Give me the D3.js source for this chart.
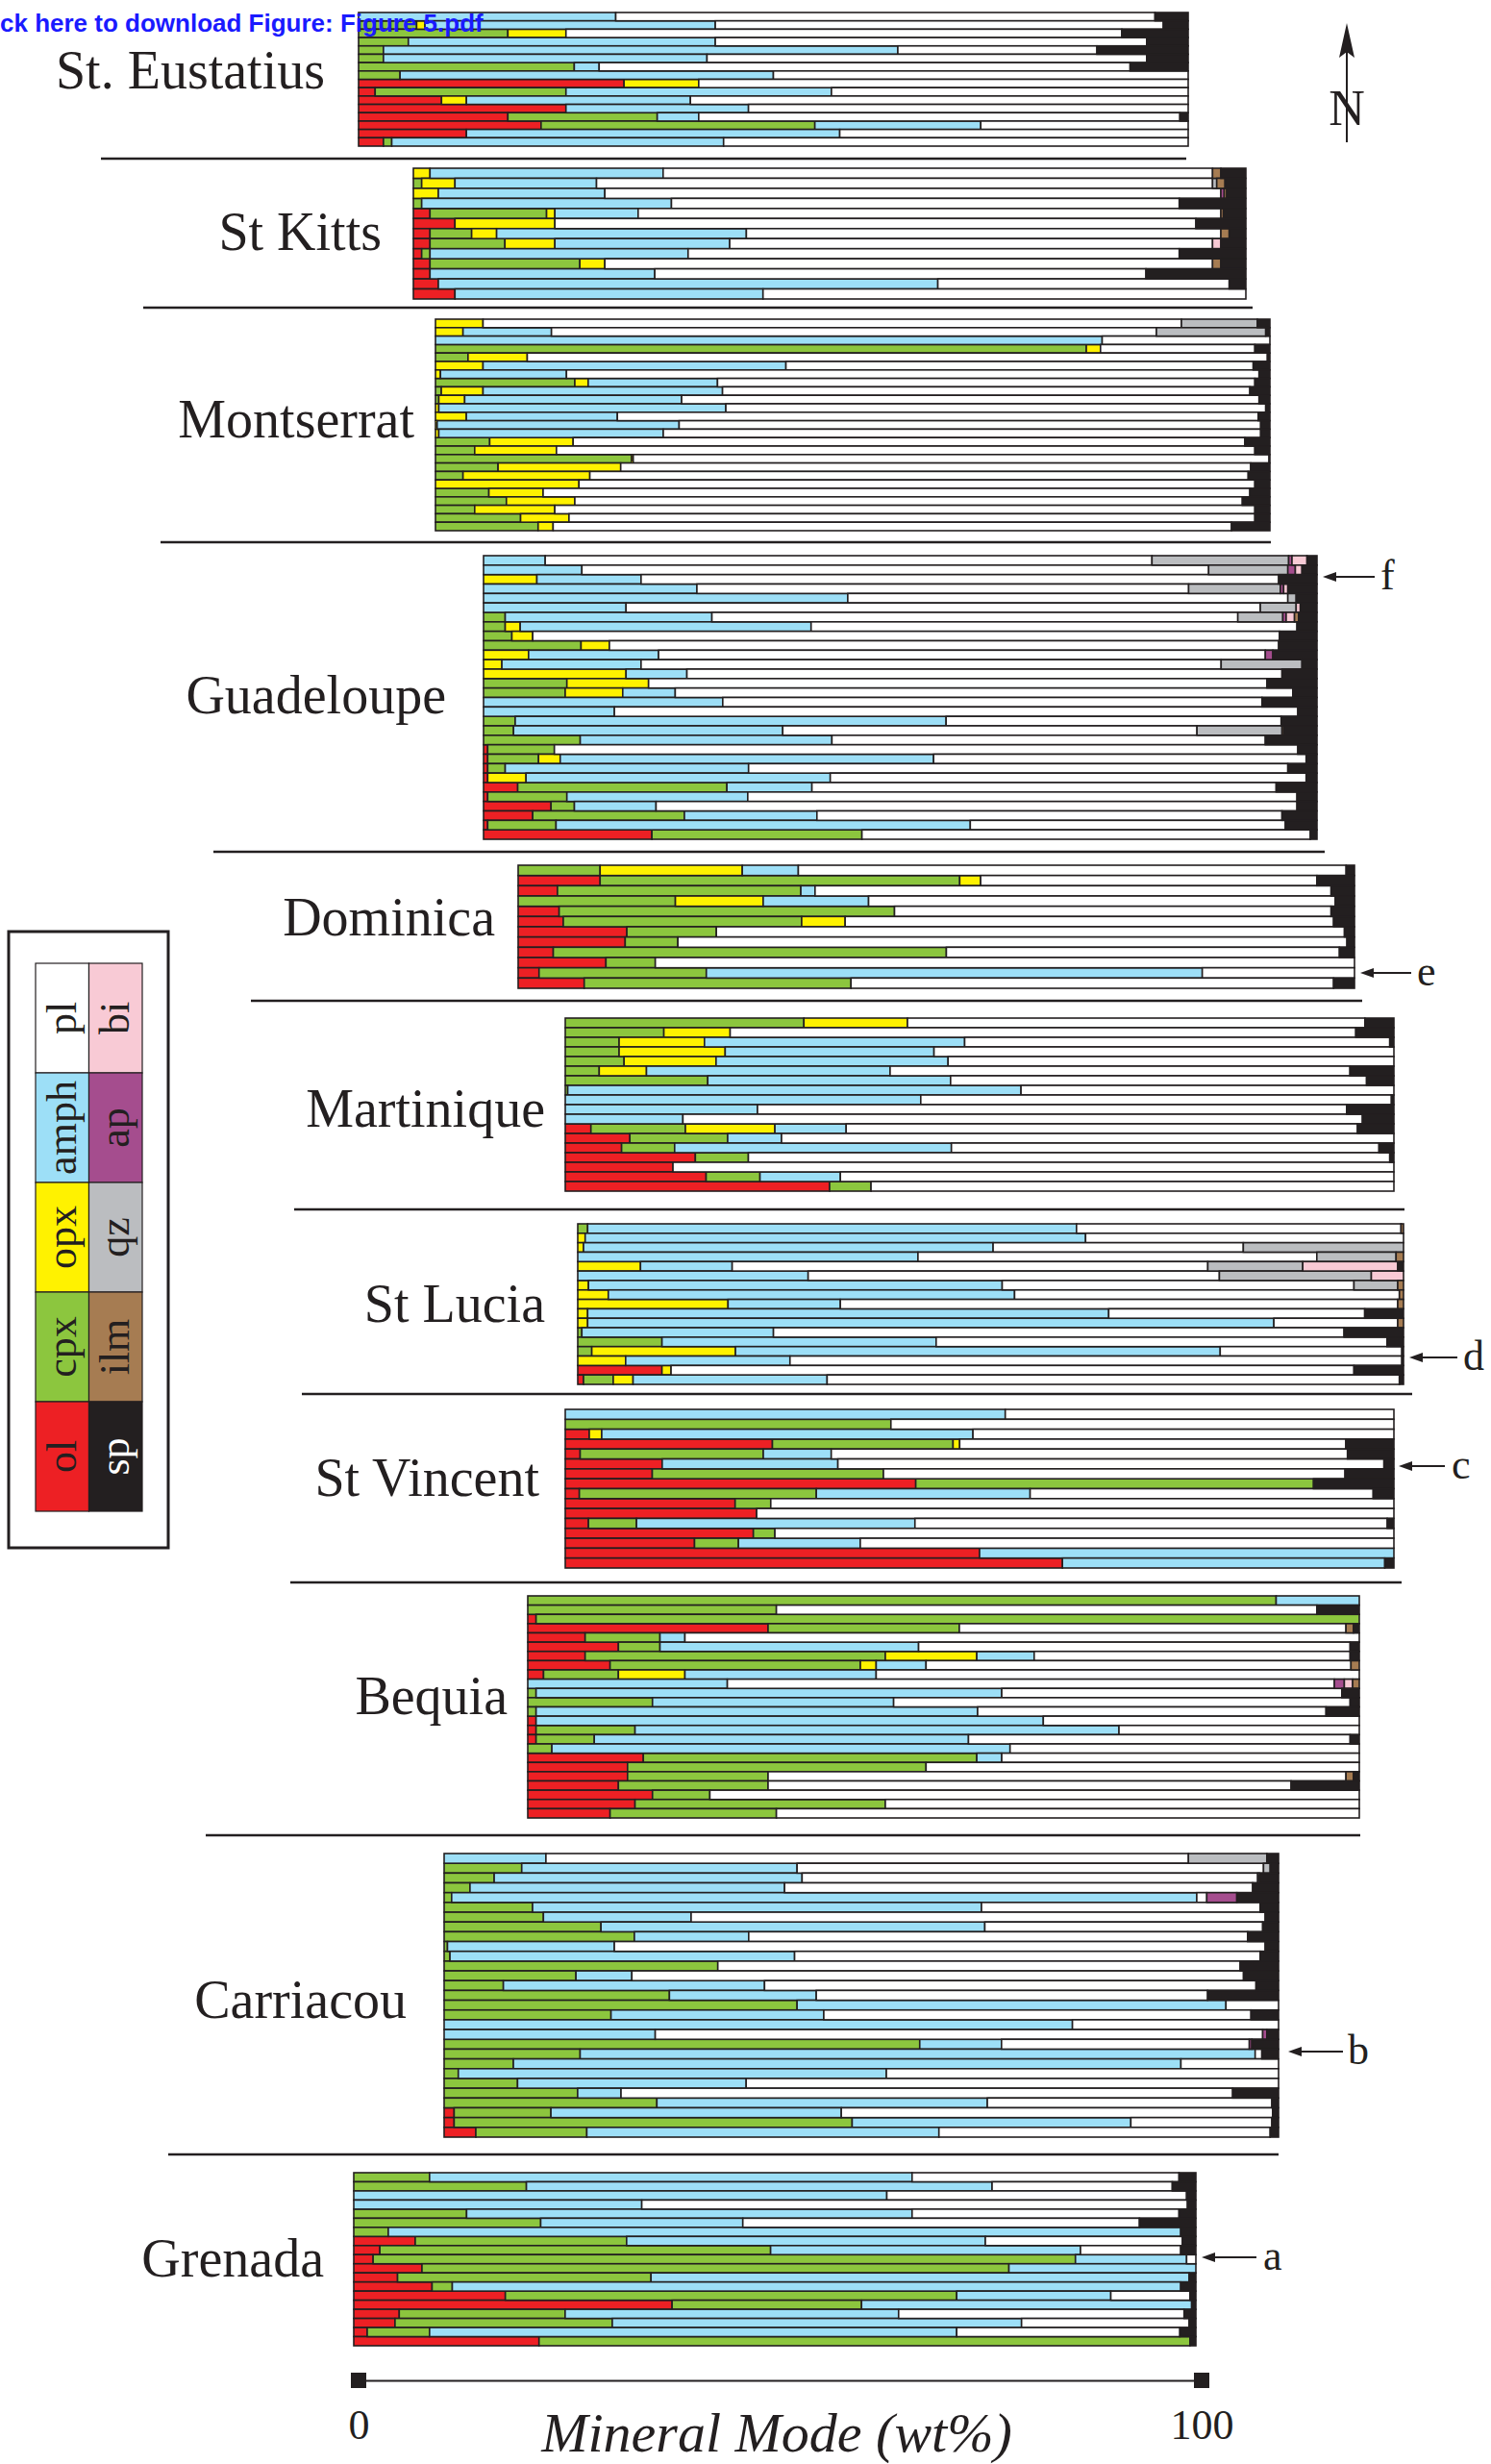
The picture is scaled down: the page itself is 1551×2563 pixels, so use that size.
<!DOCTYPE html>
<html>
<head>
<meta charset="utf-8">
<script src="https://cdn.jsdelivr.net/npm/d3@7"></script>
<style>
  body { margin: 0; background: #fff; }
  svg { display: block; }
</style>
</head>
<body>
<svg id="chart" width="1551" height="2563"></svg>
<script>
'use strict'

// mineral keys in stacking order, and their fills
const minerals = ['ol', 'cpx', 'opx', 'amph', 'pl', 'qz', 'ap', 'bi', 'ilm', 'sp']
const mineralColors = ['#ed2024', '#8cc63e', '#fff200', '#9ddff7', '#ffffff', '#bbbdc0', '#a54d8e', '#f8cad5', '#a67c52', '#231f20']

const islandNames = ['St. Eustatius', 'St Kitts', 'Montserrat', 'Guadeloupe', 'Dominica', 'Martinique',
    'St Lucia', 'St Vincent', 'Bequia', 'Carriacou', 'Grenada']

// modes in wt%, one object per sample, top to bottom
const stEustatius = [
    {amph: 31, pl: 65, sp: 4},
    {cpx: 7, opx: 1, amph: 35, pl: 54, sp: 3},
    {cpx: 18, opx: 7, pl: 67, sp: 8},
    {cpx: 6, amph: 37, pl: 52, sp: 5},
    {cpx: 3, amph: 62, pl: 24, sp: 11},
    {cpx: 3, amph: 39, pl: 53, sp: 5},
    {cpx: 26, amph: 3, pl: 64, sp: 7},
    {cpx: 5, amph: 45, pl: 50},
    {ol: 32, opx: 9, pl: 59},
    {ol: 2, cpx: 23, amph: 32, pl: 43},
    {ol: 10, opx: 3, amph: 27, pl: 60},
    {ol: 25, amph: 22, pl: 53},
    {ol: 18, cpx: 18, amph: 5, pl: 58, sp: 1},
    {ol: 22, cpx: 33, amph: 20, pl: 25},
    {ol: 13, amph: 45, pl: 42},
    {ol: 3, cpx: 1, amph: 40, pl: 56}
]

const stKitts = [
    {opx: 2, amph: 28, pl: 66, ilm: 1, sp: 3},
    {cpx: 1, opx: 4, amph: 17, pl: 74, qz: 0.5, ilm: 1, sp: 2.5},
    {opx: 3, amph: 20, pl: 74, ap: 0.4, ilm: 0.3, sp: 2.3},
    {cpx: 1, amph: 30, pl: 61, sp: 8},
    {ol: 2, cpx: 14, opx: 1, amph: 10, pl: 70, ilm: 0.3, sp: 2.7},
    {ol: 5, opx: 12, pl: 77, sp: 6},
    {ol: 2, cpx: 5, opx: 3, amph: 30, pl: 57, ilm: 1, sp: 2},
    {ol: 2, cpx: 9, opx: 6, amph: 21, pl: 58, bi: 1, sp: 3},
    {ol: 1, cpx: 1, amph: 31, pl: 59, sp: 8},
    {ol: 2, cpx: 18, opx: 3, pl: 73, ilm: 1, sp: 3},
    {ol: 2, amph: 27, pl: 59, sp: 12},
    {ol: 3, amph: 60, pl: 35, sp: 2},
    {ol: 5, amph: 37, pl: 58}
]

const montserrat = [
    {opx: 5.7, pl: 83.7, qz: 9.1, sp: 1.5},
    {opx: 3.3, amph: 10.6, pl: 72.5, qz: 13.1, sp: 0.5},
    {amph: 79.9, pl: 20.1},
    {cpx: 78, opx: 1.7, pl: 18.5, sp: 1.8},
    {cpx: 3.9, opx: 7.1, pl: 88.7, sp: 0.3},
    {opx: 5.7, amph: 36.3, pl: 56, sp: 2},
    {opx: 0.6, amph: 15.1, pl: 83, sp: 1.3},
    {cpx: 16.7, opx: 1.6, amph: 15.5, pl: 64.4, sp: 1.8},
    {cpx: 0.7, opx: 5, amph: 28.7, pl: 63.2, sp: 2.4},
    {cpx: 0.4, opx: 3.1, amph: 26, pl: 69.2, sp: 1.3},
    {opx: 0.4, amph: 34.4, pl: 64.7, sp: 0.5},
    {opx: 3.7, amph: 18.1, pl: 76.8, sp: 1.4},
    {opx: 0.2, amph: 29, pl: 69.7, sp: 1.1},
    {opx: 0.4, amph: 26.9, pl: 71.6, sp: 1.1},
    {cpx: 6.5, opx: 10, pl: 80.5, sp: 3},
    {cpx: 4.7, opx: 9.8, pl: 83.7, sp: 1.8},
    {cpx: 23.5, opx: 0.2, pl: 76.2, sp: 0.1},
    {cpx: 7.5, opx: 14.7, pl: 75.5, sp: 2.3},
    {cpx: 3.3, opx: 15.2, pl: 78.9, sp: 2.6},
    {opx: 17.2, pl: 81, sp: 1.8},
    {cpx: 6.4, opx: 6.5, pl: 84.7, sp: 2.4},
    {cpx: 8.5, opx: 8.2, pl: 80, sp: 3.3},
    {cpx: 4.7, opx: 9.6, pl: 83.9, sp: 1.8},
    {cpx: 10.2, opx: 5.8, pl: 82.2, sp: 1.8},
    {cpx: 12.3, opx: 1.8, pl: 81.3, sp: 4.6}
]

const guadeloupe = [
    {amph: 7.4, pl: 72.8, qz: 16.4, ap: 0.4, bi: 1.8, sp: 1.2},
    {amph: 11.8, pl: 75.2, qz: 9.5, ap: 0.9, bi: 0.8, sp: 1.8},
    {opx: 6.4, amph: 12.5, pl: 76.5, sp: 4.6},
    {amph: 25.6, pl: 59, qz: 11, ap: 0.4, bi: 0.5, sp: 3.5},
    {amph: 43.7, pl: 52.8, qz: 1, sp: 2.5},
    {amph: 17.1, pl: 76.1, qz: 4.3, bi: 0.5, sp: 2},
    {cpx: 2.6, amph: 24.8, pl: 63.1, qz: 5.4, ap: 0.4, bi: 1, ilm: 0.5, sp: 2.2},
    {cpx: 2.6, opx: 1.8, amph: 34.9, pl: 58.3, sp: 2.4},
    {cpx: 3.4, opx: 2.5, pl: 89.6, sp: 4.5},
    {cpx: 11.7, opx: 3.4, pl: 80.3, sp: 4.6},
    {opx: 5.4, amph: 15.6, pl: 72.8, ap: 0.9, sp: 5.3},
    {opx: 2.2, amph: 16.7, pl: 69.6, qz: 9.7, sp: 1.8},
    {opx: 17.1, amph: 7.3, pl: 71.4, sp: 4.2},
    {cpx: 10, opx: 9.8, pl: 74.2, sp: 6},
    {cpx: 9.8, opx: 6.9, amph: 6.3, pl: 74.1, sp: 2.9},
    {amph: 28.7, pl: 64.7, sp: 6.6},
    {amph: 15.7, pl: 82, sp: 2.3},
    {cpx: 3.8, amph: 51.7, pl: 40.2, sp: 4.3},
    {cpx: 3.6, amph: 32.3, pl: 49.7, qz: 10.2, ilm: 0.2, sp: 4},
    {cpx: 11.6, amph: 30.2, pl: 52, sp: 6.2},
    {ol: 0.5, cpx: 8, pl: 89.2, sp: 2.3},
    {ol: 0.5, cpx: 6.1, opx: 2.6, amph: 44.8, pl: 44.7, sp: 1.3},
    {ol: 0.5, cpx: 2.1, amph: 29.2, pl: 64.7, sp: 3.5},
    {ol: 0.5, opx: 4.6, amph: 36.5, pl: 57.1, sp: 1.3},
    {ol: 4.1, cpx: 25.1, amph: 10.2, pl: 55.7, sp: 4.9},
    {ol: 0.5, cpx: 9.5, amph: 21.7, pl: 65.9, sp: 2.4},
    {ol: 8.1, cpx: 2.8, amph: 9.8, pl: 76.9, sp: 2.4},
    {ol: 5.9, cpx: 18.2, amph: 15.9, pl: 55.8, sp: 4.2},
    {ol: 0.5, cpx: 8.2, amph: 49.7, pl: 37.8, sp: 3.8},
    {ol: 20.2, cpx: 25.2, pl: 53.8, sp: 0.8}
]

const dominica = [
    {cpx: 9.8, opx: 17, amph: 6.7, pl: 65.5, sp: 1},
    {ol: 9.8, cpx: 43, opx: 2.5, pl: 40.2, sp: 4.5},
    {ol: 4.7, cpx: 29.1, amph: 1.7, pl: 61.7, sp: 2.8},
    {cpx: 18.8, opx: 10.5, amph: 12.6, pl: 55.8, sp: 2.3},
    {ol: 4.9, cpx: 40.1, pl: 52.2, sp: 2.8},
    {ol: 5.4, cpx: 28.5, opx: 5.2, pl: 58.4, sp: 2.5},
    {ol: 13, cpx: 10.7, pl: 75.1, sp: 1.2},
    {ol: 12.8, cpx: 6.3, pl: 80, sp: 0.9},
    {ol: 4.2, cpx: 47, pl: 47, sp: 1.8},
    {ol: 10.5, cpx: 5.9, pl: 83.6},
    {ol: 2.5, cpx: 20, amph: 59.3, pl: 18.2},
    {ol: 7.9, cpx: 31.9, pl: 57.7, sp: 2.5}
]

const martinique = [
    {cpx: 28.8, opx: 12.5, pl: 55.2, sp: 3.5},
    {cpx: 11.9, opx: 8, pl: 75.5, sp: 4.6},
    {cpx: 6.5, opx: 10.3, amph: 31.4, pl: 51.3, sp: 0.5},
    {cpx: 6.5, opx: 12.8, amph: 25.2, pl: 55.5},
    {cpx: 7.1, opx: 11.1, amph: 28, pl: 53.8},
    {cpx: 4.1, opx: 5.7, amph: 29.4, pl: 55.5, sp: 5.3},
    {cpx: 17.2, amph: 29.3, pl: 50.2, sp: 3.3},
    {cpx: 0.3, amph: 54.7, pl: 45},
    {amph: 42.9, pl: 56.8, sp: 0.3},
    {amph: 23.2, pl: 71.1, sp: 5.7},
    {amph: 14.2, pl: 82, sp: 3.8},
    {ol: 3.1, cpx: 11.4, opx: 10.8, amph: 8.6, pl: 61.7, sp: 4.4},
    {ol: 7.8, cpx: 11.8, amph: 6.5, pl: 73.9},
    {ol: 6.8, cpx: 6.4, amph: 33.4, pl: 51.6, sp: 1.8},
    {ol: 15.7, cpx: 6.4, pl: 77.4, sp: 0.5},
    {ol: 13, pl: 87},
    {ol: 17, cpx: 6.5, amph: 9.7, pl: 66.8},
    {ol: 31.9, cpx: 5, pl: 63.1}
]

const stLucia = [
    {cpx: 1.2, amph: 59.2, pl: 39.3, ilm: 0.3},
    {opx: 0.9, amph: 60.6, pl: 38.5},
    {opx: 0.7, amph: 49.6, pl: 30.3, qz: 19.4},
    {amph: 41.2, pl: 48.3, qz: 9.6, ilm: 0.9},
    {opx: 7.6, amph: 11.1, pl: 57.6, qz: 11.5, bi: 11.5, sp: 0.7},
    {amph: 27.9, pl: 49.8, qz: 18.4, bi: 3.9},
    {opx: 1.3, amph: 50.1, pl: 42.6, qz: 5.3, ilm: 0.7},
    {opx: 3.7, amph: 49.2, pl: 46.6, ilm: 0.5},
    {opx: 18.2, amph: 13.6, pl: 67.5, ilm: 0.7},
    {opx: 1.2, amph: 63.1, pl: 31, sp: 4.7},
    {opx: 1.2, amph: 83.1, pl: 15, ilm: 0.7},
    {cpx: 0.5, amph: 23.2, pl: 69.1, sp: 7.2},
    {cpx: 10.2, amph: 33.2, pl: 54.6, sp: 2},
    {cpx: 1.7, opx: 17.4, amph: 58.7, pl: 22, sp: 0.2},
    {opx: 5.8, amph: 19.9, pl: 74.1, sp: 0.2},
    {ol: 10.2, opx: 1.1, pl: 82.7, sp: 6},
    {ol: 0.7, cpx: 3.6, opx: 2.4, amph: 23.5, pl: 69.3, sp: 0.5}
]

const stVincent = [
    {amph: 53.1, pl: 46.9},
    {cpx: 39.3, pl: 60.7},
    {ol: 2.9, opx: 1.5, amph: 44.8, pl: 50.8},
    {ol: 25, cpx: 21.8, opx: 0.8, pl: 46.6, sp: 5.8},
    {ol: 1.8, cpx: 22.1, amph: 8.2, pl: 62.3, sp: 5.6},
    {ol: 11.7, amph: 21.2, pl: 65.9, sp: 1.2},
    {ol: 10.5, cpx: 27.9, pl: 55.7, sp: 5.9},
    {ol: 42.3, cpx: 48, sp: 9.7},
    {ol: 1.7, cpx: 28.6, amph: 25.8, pl: 41.4, sp: 2.5},
    {ol: 20.5, cpx: 4.3, pl: 75.2},
    {ol: 23.1, pl: 76.9},
    {ol: 2.8, cpx: 5.8, amph: 33.6, pl: 57, sp: 0.8},
    {ol: 22.7, cpx: 2.6, pl: 74.7},
    {ol: 15.6, cpx: 5.3, amph: 14.7, pl: 64.4},
    {ol: 50, amph: 50},
    {ol: 60, amph: 38.9, sp: 1.1}
]

const bequia = [
    {cpx: 90, amph: 10},
    {cpx: 29.9, pl: 65, sp: 5.1},
    {ol: 1, cpx: 99},
    {ol: 28.9, cpx: 23, pl: 46.5, ilm: 0.9, sp: 0.7},
    {ol: 6.9, cpx: 9, amph: 3, pl: 81.1},
    {ol: 10.9, cpx: 5, amph: 31.1, pl: 51.9, sp: 1.1},
    {ol: 6.9, cpx: 36.1, opx: 11, amph: 6.9, pl: 38, sp: 1.1},
    {ol: 9.9, cpx: 30.1, opx: 1.9, amph: 6, pl: 51.1, ilm: 1},
    {ol: 1.9, cpx: 9, opx: 8, amph: 23, pl: 58.1},
    {amph: 24, pl: 73, ap: 1.2, bi: 1, ilm: 0.8},
    {cpx: 1, amph: 56, pl: 40.9, sp: 2.1},
    {cpx: 15, amph: 29, pl: 54.9, sp: 1.1},
    {cpx: 1, amph: 53.1, pl: 41.9, sp: 4},
    {ol: 1, amph: 61, pl: 38},
    {ol: 1, cpx: 11.9, amph: 58.2, pl: 28.9},
    {ol: 1, cpx: 7, amph: 45, pl: 45.9, sp: 1.1},
    {cpx: 2.9, amph: 55.1, pl: 42},
    {ol: 13.9, cpx: 40.1, amph: 3, pl: 43},
    {ol: 12, cpx: 35.9, pl: 52.1},
    {ol: 12, cpx: 16.9, pl: 69.5, ilm: 0.9, sp: 0.7},
    {ol: 10.9, cpx: 18, pl: 62.9, sp: 8.2},
    {ol: 15, cpx: 6.9, pl: 78.1},
    {ol: 12.9, cpx: 30.1, pl: 57},
    {ol: 9.9, cpx: 20, pl: 70.1}
]

const carriacou = [
    {amph: 12.2, pl: 77, qz: 9.4, sp: 1.4},
    {cpx: 9.3, amph: 33, pl: 55.9, qz: 0.8, sp: 1},
    {cpx: 6, amph: 36.9, pl: 54.6, qz: 0.2, sp: 2.3},
    {cpx: 3.1, amph: 37.7, pl: 56.1, sp: 3.1},
    {cpx: 0.9, amph: 89.3, pl: 1.2, ap: 3.6, sp: 5},
    {cpx: 10.6, amph: 53.8, pl: 33.4, sp: 2.2},
    {cpx: 11.9, amph: 17.7, pl: 68.8, sp: 1.6},
    {cpx: 18.8, amph: 46, pl: 33.3, sp: 1.9},
    {cpx: 22.8, amph: 13.7, pl: 59.8, sp: 3.7},
    {cpx: 0.4, amph: 20, pl: 78, sp: 1.6},
    {cpx: 0.7, amph: 41.3, pl: 55.8, sp: 2.2},
    {cpx: 32.8, pl: 62.6, sp: 4.6},
    {cpx: 15.8, amph: 6.7, pl: 73.3, sp: 4.2},
    {cpx: 7.1, amph: 31.3, pl: 58.9, sp: 2.7},
    {cpx: 27, amph: 17.6, pl: 46.9, sp: 8.5},
    {cpx: 42.3, amph: 51.4, pl: 6.3},
    {cpx: 20, amph: 25.5, pl: 51.2, sp: 3.3},
    {amph: 75.3, pl: 24.7},
    {amph: 25.3, pl: 72.8, ap: 0.5, sp: 1.4},
    {cpx: 57, amph: 9.8, pl: 29.7, ap: 0.3, sp: 3.2},
    {cpx: 16.3, amph: 80.9, pl: 0.8, sp: 2},
    {cpx: 8.3, amph: 80, pl: 11.7},
    {cpx: 1.7, amph: 51.3, pl: 47},
    {cpx: 8.8, amph: 27.4, pl: 63.8},
    {cpx: 16, amph: 5.2, pl: 73.3, sp: 5.5},
    {cpx: 25.5, amph: 39.6, pl: 34.1, sp: 0.8},
    {ol: 1.2, cpx: 11.6, amph: 34.8, pl: 51.7, sp: 0.7},
    {ol: 1.2, cpx: 47.7, amph: 33.4, pl: 16.9, sp: 0.8},
    {ol: 3.8, cpx: 13.3, amph: 42.2, pl: 39.7, sp: 1}
]

const grenada = [
    {cpx: 9, amph: 57.3, pl: 31.7, sp: 2},
    {cpx: 20.5, amph: 55.3, pl: 21.4, sp: 2.8},
    {amph: 63.3, pl: 35.6, sp: 1.1},
    {amph: 34.2, pl: 64.8, sp: 1},
    {cpx: 13.4, amph: 52.9, pl: 31.7, sp: 2},
    {cpx: 22.2, amph: 24, pl: 47.1, sp: 6.7},
    {cpx: 4.1, amph: 94.1, sp: 1.8},
    {ol: 7.3, cpx: 25.1, amph: 42.6, pl: 23.4, sp: 1.6},
    {ol: 3.1, cpx: 46.4, amph: 36.8, pl: 11.9, sp: 1.8},
    {ol: 2.3, cpx: 83.4, amph: 13.2, pl: 1.1},
    {ol: 8.1, cpx: 69.7, amph: 22.2},
    {ol: 5.2, cpx: 30.1, amph: 63.9, sp: 0.8},
    {ol: 9.3, cpx: 2.4, amph: 86.5, sp: 1.8},
    {ol: 18, cpx: 53.6, amph: 18.3, pl: 9.4, sp: 0.7},
    {ol: 37.8, cpx: 22.5, amph: 39.2, sp: 0.5},
    {ol: 5.4, cpx: 19.7, amph: 39.6, pl: 33.9, sp: 1.4},
    {ol: 4.9, cpx: 25.8, amph: 48.6, pl: 19.9, sp: 0.8},
    {ol: 1.6, cpx: 7.4, amph: 62.6, pl: 26.5, sp: 1.9},
    {ol: 22, cpx: 77.3, sp: 0.7}
]

const islandModes = [stEustatius, stKitts, montserrat, guadeloupe, dominica, martinique,
    stLucia, stVincent, bequia, carriacou, grenada]

const arrowLetters = ['f', 'e', 'd', 'c', 'b', 'a']
const axisTicks = [0, 100]

// page layout (pixels)
const boxes = [
    {x0: 373, x1: 1236, y0: 13, y1: 152, lx: 338, ly: 72},
    {x0: 430, x1: 1296, y0: 175, y1: 311, lx: 397, ly: 240},
    {x0: 453, x1: 1321, y0: 332, y1: 552, lx: 431, ly: 435},
    {x0: 503, x1: 1370, y0: 578, y1: 873, lx: 464, ly: 722},
    {x0: 539, x1: 1409, y0: 900, y1: 1028, lx: 515, ly: 953},
    {x0: 588, x1: 1450, y0: 1059, y1: 1239, lx: 567, ly: 1152},
    {x0: 601, x1: 1460, y0: 1273, y1: 1440, lx: 567, ly: 1355},
    {x0: 588, x1: 1450, y0: 1466, y1: 1631, lx: 561, ly: 1536},
    {x0: 549, x1: 1414, y0: 1660, y1: 1891, lx: 528, ly: 1763},
    {x0: 462, x1: 1330, y0: 1928, y1: 2223, lx: 423, ly: 2079},
    {x0: 368, x1: 1244, y0: 2260, y1: 2440, lx: 337, ly: 2348}
]

const separators = [
    {y: 165, x0: 105, x1: 1234},
    {y: 320, x0: 149, x1: 1303},
    {y: 564, x0: 167, x1: 1322},
    {y: 886, x0: 222, x1: 1378},
    {y: 1041, x0: 261, x1: 1417},
    {y: 1258, x0: 306, x1: 1461},
    {y: 1450, x0: 314, x1: 1469},
    {y: 1646, x0: 302, x1: 1458},
    {y: 1909, x0: 214, x1: 1415},
    {y: 2241, x0: 175, x1: 1330}
]

const arrows = [
    {y: 600, x0: 1376, x1: 1430, tx: 1436},
    {y: 1012, x0: 1415, x1: 1468, tx: 1474},
    {y: 1412, x0: 1466, x1: 1516, tx: 1522},
    {y: 1525, x0: 1455, x1: 1503, tx: 1510},
    {y: 2134, x0: 1340, x1: 1397, tx: 1402},
    {y: 2348, x0: 1250, x1: 1307, tx: 1314}
]

const serif = '"Liberation Serif", "Times New Roman", serif'
const ink = '#231f20'

const color = d3.scaleOrdinal().domain(minerals).range(mineralColors)
const stack = d3.stack()
    .keys(minerals)
    .value((d, k) => d[k] || 0)

const svg = d3.select('#chart')

svg.append('rect')
    .attr('width', 1551)
    .attr('height', 2563)
    .attr('fill', '#fff')

const drawIsland = (rows, box, name) => {
    const x = d3.scaleLinear().domain([0, 100]).range([box.x0, box.x1])
    const y = d3.scaleBand().domain(d3.range(rows.length)).range([box.y0, box.y1])
    const g = svg.append('g')

    g.selectAll('g')
        .data(stack(rows))
        .join('g')
        .attr('fill', d => color(d.key))
        .selectAll('rect')
        .data(d => d.map((s, i) => ({s, i})).filter(e => e.s[1] - e.s[0] > 0))
        .join('rect')
        .attr('x', e => x(e.s[0]))
        .attr('y', e => y(e.i))
        .attr('width', e => x(e.s[1]) - x(e.s[0]))
        .attr('height', y.bandwidth())
        .attr('stroke', ink)
        .attr('stroke-width', 1.6)

    svg.append('text')
        .attr('x', box.lx)
        .attr('y', box.ly)
        .attr('dy', '0.35em')
        .attr('text-anchor', 'end')
        .attr('font-family', serif)
        .attr('font-size', 56)
        .attr('fill', ink)
        .text(name)
}

islandModes.forEach((rows, i) => drawIsland(rows, boxes[i], islandNames[i]))

svg.append('g')
    .selectAll('line')
    .data(separators)
    .join('line')
    .attr('x1', d => d.x0)
    .attr('x2', d => d.x1)
    .attr('y1', d => d.y)
    .attr('y2', d => d.y)
    .attr('stroke', ink)
    .attr('stroke-width', 2.5)

// sample arrows
const arrowG = svg.append('g')
arrowG.selectAll('line')
    .data(arrows)
    .join('line')
    .attr('x1', d => d.x0 + 10)
    .attr('x2', d => d.x1)
    .attr('y1', d => d.y)
    .attr('y2', d => d.y)
    .attr('stroke', ink)
    .attr('stroke-width', 2)
arrowG.selectAll('path')
    .data(arrows)
    .join('path')
    .attr('d', d => `M${d.x0},${d.y} L${d.x0 + 14},${d.y - 5} L${d.x0 + 14},${d.y + 5} Z`)
    .attr('fill', ink)
arrowG.selectAll('text')
    .data(arrows)
    .join('text')
    .attr('x', d => d.tx)
    .attr('y', d => d.y)
    .attr('dy', '0.3em')
    .attr('font-family', serif)
    .attr('font-size', 44)
    .attr('fill', ink)
    .text((d, i) => arrowLetters[i])

// north arrow
const north = svg.append('g')
north.append('line')
    .attr('x1', 1401).attr('x2', 1401)
    .attr('y1', 50).attr('y2', 148)
    .attr('stroke', ink)
    .attr('stroke-width', 2)
north.append('path')
    .attr('d', 'M1401,24 L1393,60 L1401,54 L1409,60 Z')
    .attr('fill', ink)
north.append('text')
    .attr('x', 1401)
    .attr('y', 130)
    .attr('text-anchor', 'middle')
    .attr('font-family', serif)
    .attr('font-size', 52)
    .attr('fill', ink)
    .text('N')

// legend
const legend = svg.append('g')
legend.append('rect')
    .attr('x', 9).attr('y', 969)
    .attr('width', 166).attr('height', 641)
    .attr('fill', 'none')
    .attr('stroke', ink)
    .attr('stroke-width', 3)

const legendCols = [['pl', 'amph', 'opx', 'cpx', 'ol'], ['bi', 'ap', 'qz', 'ilm', 'sp']]
const lx = d3.scaleBand().domain([0, 1]).range([37, 148])
const ly = d3.scaleBand().domain(d3.range(5)).range([1002, 1572])
const legendItems = legendCols.flatMap((col, c) => col.map((k, r) => ({k, c, r})))

legend.selectAll('rect.cell')
    .data(legendItems)
    .join('rect')
    .attr('class', 'cell')
    .attr('x', d => lx(d.c))
    .attr('y', d => ly(d.r))
    .attr('width', lx.bandwidth())
    .attr('height', ly.bandwidth())
    .attr('fill', d => color(d.k))
    .attr('stroke', ink)
    .attr('stroke-width', 1.2)

legend.selectAll('text')
    .data(legendItems)
    .join('text')
    .attr('transform', d => `translate(${lx(d.c) + lx.bandwidth() / 2},${ly(d.r) + ly.bandwidth() / 2}) rotate(-90)`)
    .attr('dy', '0.32em')
    .attr('text-anchor', 'middle')
    .attr('font-family', serif)
    .attr('font-size', 44)
    .attr('fill', d => d.k == 'sp' ? '#fff' : ink)
    .text(d => d.k)

// mode axis
const modeScale = d3.scaleLinear().domain([0, 100]).range([373, 1250])
const axis = svg.append('g')
    .attr('transform', 'translate(0,2476)')
    .call(d3.axisBottom(modeScale).tickValues(axisTicks).tickSize(0).tickPadding(30))
axis.select('.domain')
    .attr('stroke', ink)
    .attr('stroke-width', 2)
axis.selectAll('.tick text')
    .attr('font-family', serif)
    .attr('font-size', 44)
    .attr('fill', ink)
axis.selectAll('rect.end')
    .data(axisTicks)
    .join('rect')
    .attr('class', 'end')
    .attr('x', d => modeScale(d) - 8)
    .attr('y', -8)
    .attr('width', 16)
    .attr('height', 16)
    .attr('fill', ink)

svg.append('text')
    .attr('x', 808)
    .attr('y', 2550)
    .attr('text-anchor', 'middle')
    .attr('font-family', serif)
    .attr('font-style', 'italic')
    .attr('font-size', 58)
    .attr('fill', ink)
    .text('Mineral Mode (wt%)')

// download banner, cut at the page edge
svg.append('text')
    .attr('x', 0)
    .attr('y', 33)
    .attr('font-family', '"Liberation Sans", Arial, sans-serif')
    .attr('font-weight', 'bold')
    .attr('font-size', 26)
    .attr('fill', '#1a1aff')
    .text('ck here to download Figure: Figure 5.pdf')
</script>
</body>
</html>
